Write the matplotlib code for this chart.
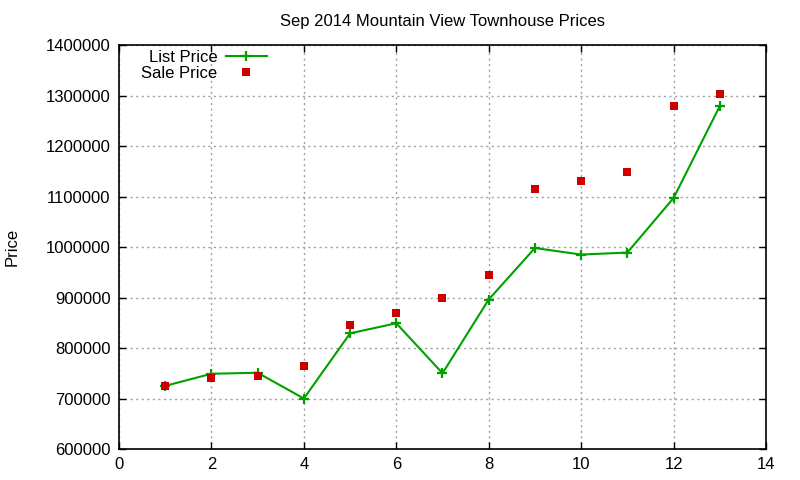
import matplotlib
matplotlib.use("Agg")
import matplotlib.pyplot as plt

x = [1, 2, 3, 4, 5, 6, 7, 8, 9, 10, 11, 12, 13]
list_price = [725000, 749000, 751000, 700000, 829000, 849000, 750000, 896000,
              998000, 985000, 989000, 1097000, 1279000]
sale_price = [725000, 740000, 745000, 765000, 845000, 869000, 900000, 945000,
              1115000, 1130000, 1149000, 1279000, 1303000]
xticks = [0, 2, 4, 6, 8, 10, 12, 14]
yticks = [600000, 700000, 800000, 900000, 1000000, 1100000, 1200000, 1300000, 1400000]

plt.rcParams['font.family'] = ['Liberation Sans', 'DejaVu Sans']
fig = plt.figure(figsize=(8, 4.8), dpi=100)
ax = fig.add_axes([119/800, 1 - 449/480, (766 - 119)/800, (449 - 45)/480])

ax.plot(x, list_price, color='#00a000', lw=1.5, marker='+', markersize=7,
        markeredgewidth=1.6, label='List Price', zorder=3)
ax.plot(x, sale_price, ls='none', color='#cc0000', marker='s', markersize=6,
        markeredgewidth=0, label='Sale Price', zorder=4)

ax.set_xlim(0, 14)
ax.set_ylim(600000, 1400000)
ax.set_xticks(xticks)
ax.set_yticks(yticks)
ax.set_xticklabels([str(t) for t in xticks])
ax.set_yticklabels([str(t) for t in yticks])
ax.tick_params(direction='in', length=5, width=1, top=True, right=True,
               labelsize=12, pad=6, colors='black')
ax.grid(True, color='#a0a0a0', ls=(0, (1.5, 2.5)), lw=1)
for s in ax.spines.values():
    s.set_linewidth(1.2)

ax.set_title('Sep 2014 Mountain View Townhouse Prices', fontsize=12, pad=14)
fig.text(12/800, 1 - 247/480, 'Price', rotation=90, fontsize=12,
         ha='center', va='center')

leg = ax.legend(loc='upper left', markerfirst=False, frameon=False, fontsize=12,
                handlelength=2.5, borderaxespad=0.0, labelspacing=0.05,
                bbox_to_anchor=(0.024, 1.004), handletextpad=0.5, numpoints=1)

fig.savefig('out.png', dpi=100)
